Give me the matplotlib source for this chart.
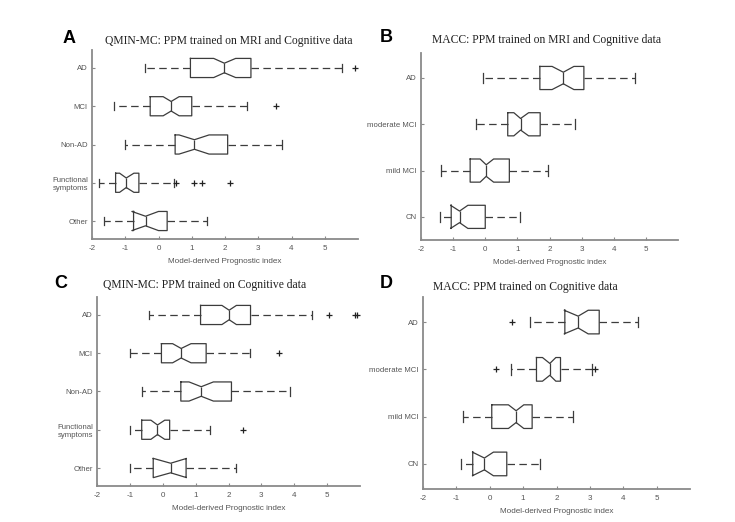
import matplotlib
matplotlib.use("Agg")
import matplotlib.pyplot as plt

# Panel A: QMIN-MC, MRI + cognitive
cats_a = ["AD", "MCI", "Non-AD", "Functional\nsymptoms", "Other"]
whislo_a = [-0.42, -1.35, -1.02, -1.79, -1.64]
q1_a = [0.96, -0.25, 0.50, -1.29, -0.75]
cilo_a = [1.66, 0.14, 0.62, -1.17, -0.80]
med_a = [1.98, 0.38, 1.08, -0.97, -0.39]
cihi_a = [2.32, 0.62, 1.52, -0.74, 0.00]
q3_a = [2.78, 1.00, 2.08, -0.59, 0.26]
whishi_a = [5.51, 2.65, 3.70, 0.46, 1.45]
fliers_a = [[5.90], [3.53], [], [0.53, 1.06, 1.30, 2.15], []]

# Panel B: MACC, MRI + cognitive
cats_b = ["AD", "moderate MCI", "mild MCI", "CN"]
whislo_b = [-0.07, -0.28, -1.37, -1.42]
q1_b = [1.70, 0.70, -0.47, -1.06]
cilo_b = [2.08, 0.89, -0.16, -1.08]
med_b = [2.43, 1.10, 0.03, -0.80]
cihi_b = [2.76, 1.35, 0.26, -0.54]
q3_b = [3.07, 1.71, 0.75, 0.00]
whishi_b = [4.66, 2.80, 1.94, 1.09]
fliers_b = [[], [], [], []]

# Panel C: QMIN-MC, cognitive only
cats_c = ["AD", "MCI", "Non-AD", "Functional\nsymptoms", "Other"]
whislo_c = [-0.41, -1.00, -0.62, -1.00, -1.00]
q1_c = [1.15, -0.04, 0.55, -0.64, -0.29]
cilo_c = [1.80, 0.30, 0.80, -0.36, -0.28]
med_c = [2.02, 0.56, 1.17, -0.16, 0.24]
cihi_c = [2.24, 0.86, 1.54, 0.06, 0.72]
q3_c = [2.67, 1.32, 2.09, 0.21, 0.71]
whishi_c = [4.53, 2.64, 3.88, 1.45, 2.22]
fliers_c = [[5.07, 5.84, 5.90], [3.53], [], [2.44], []]

# Panel D: MACC, cognitive only
cats_d = ["AD", "moderate MCI", "mild MCI", "CN"]
whislo_d = [1.20, 0.64, -0.79, -0.86]
q1_d = [2.25, 1.40, 0.06, -0.51]
cilo_d = [2.23, 1.58, 0.56, -0.52]
med_d = [2.65, 1.80, 0.79, -0.16]
cihi_d = [2.95, 1.98, 1.02, 0.11]
q3_d = [3.28, 2.12, 1.27, 0.51]
whishi_d = [4.45, 3.06, 2.50, 1.52]
fliers_d = [[0.68], [0.19, 3.15], [], []]

GRAY = "#8a8a8a"
TXT = "#555555"
BOX = "#3c3c3c"
SANS = "Liberation Sans"

fig = plt.figure(figsize=(7.35, 5.22), dpi=100)


def panel(rect, cats, wlo, q1, clo, med, chi, q3, whi, fl, ylim):
    ax = fig.add_axes(rect)
    stats = []
    for i in range(len(cats)):
        stats.append(dict(whislo=wlo[i], q1=q1[i], cilo=clo[i], med=med[i],
                          cihi=chi[i], q3=q3[i], whishi=whi[i], fliers=fl[i]))
    pos = list(range(1, len(cats) + 1))
    ax.bxp(stats, positions=pos, widths=0.5, capwidths=0.22,
           orientation="horizontal", shownotches=True,
           boxprops=dict(color=BOX, lw=0.9),
           medianprops=dict(color=BOX, lw=0.9),
           whiskerprops=dict(color=BOX, lw=0.9, linestyle=(0, (6, 3.5))),
           capprops=dict(color=BOX, lw=0.9),
           flierprops=dict(marker="+", markeredgecolor="#222222",
                           markersize=4, markeredgewidth=0.9))
    ax.set_yticks(pos)
    ax.set_yticklabels(cats, fontsize=5.6, color=TXT, family=SANS)
    ax.set_ylim(*ylim)
    ax.set_xlim(-2, 6)
    ax.set_xticks(range(-2, 6))
    ax.set_xticklabels([str(v) for v in range(-2, 6)], fontsize=5.8,
                       color=TXT, family=SANS)
    ax.set_xlabel("Model-derived Prognostic index", fontsize=5.9, color=TXT,
                  family=SANS, labelpad=4.5)
    for s in ["top", "right"]:
        ax.spines[s].set_visible(False)
    for s in ["left", "bottom"]:
        ax.spines[s].set_color(GRAY)
        ax.spines[s].set_linewidth(1.3)
    ax.tick_params(direction="in", length=2.5, color=GRAY, width=0.8, pad=3)
    ax.tick_params(axis="x", pad=4)
    return ax


W, H = 735, 522


def rect(l, r, t, b):
    return [l / W, 1 - b / H, (r - l) / W, (b - t) / H]


panel(rect(92, 358, 50, 239), cats_a, whislo_a, q1_a, cilo_a, med_a, cihi_a,
      q3_a, whishi_a, fliers_a, (5.47, 0.53))
panel(rect(421, 678, 53, 240), cats_b, whislo_b, q1_b, cilo_b, med_b, cihi_b,
      q3_b, whishi_b, fliers_b, (4.5, 0.46))
panel(rect(97, 360, 297, 486), cats_c, whislo_c, q1_c, cilo_c, med_c, cihi_c,
      q3_c, whishi_c, fliers_c, (5.47, 0.53))
panel(rect(423, 690, 297, 489), cats_d, whislo_d, q1_d, cilo_d, med_d, cihi_d,
      q3_d, whishi_d, fliers_d, (4.53, 0.47))

titles = [
    ("A", 63, 43, "QMIN-MC: PPM trained on MRI and Cognitive data", 105, 41),
    ("B", 380, 42, "MACC: PPM trained on MRI and Cognitive data", 432, 40),
    ("C", 54, 288, "QMIN-MC: PPM trained on Cognitive data", 103, 285),
    ("D", 380, 288, "MACC: PPM trained on Cognitive data", 433, 287),
]
for letter, lx, ly, title, tx, ty in titles:
    fig.text(lx / W, 1 - ly / H, letter, fontsize=13, fontweight="bold",
             family="Liberation Sans", va="baseline", ha="left")
    fig.text(tx / W, 1 - ty / H, title, fontsize=8.4, family="Liberation Serif",
             va="center", ha="left", color="#222222")

fig.savefig("out.png", dpi=100)
